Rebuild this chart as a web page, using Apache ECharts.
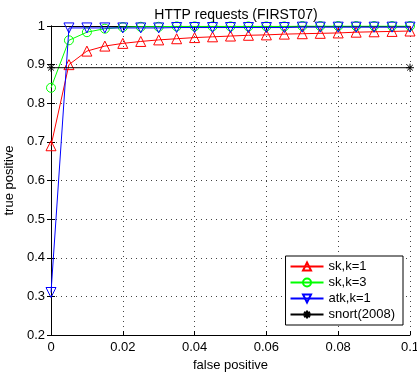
<!DOCTYPE html>
<html>
<head>
<meta charset="utf-8">
<script src="https://cdn.jsdelivr.net/npm/echarts@6/dist/echarts.min.js"></script>
<style>
  html, body { margin: 0; padding: 0; background: #fff; }
  #chart { width: 417px; height: 374px; }
</style>
</head>
<body>
<div id="chart"></div>
<script>
const fpr = [0, 0.005, 0.01, 0.015, 0.02, 0.025, 0.03, 0.035, 0.04, 0.045, 0.05,
  0.055, 0.06, 0.065, 0.07, 0.075, 0.08, 0.085, 0.09, 0.095, 0.1];
const skK1 = [0.69, 0.90, 0.935, 0.948, 0.955, 0.96, 0.964, 0.967, 0.97, 0.972, 0.974,
  0.976, 0.977, 0.979, 0.98, 0.981, 0.982, 0.984, 0.985, 0.986, 0.987];
const skK3 = [0.84, 0.963, 0.984, 0.993, 0.997, 0.998, 0.998, 0.999, 0.999, 0.999, 0.999,
  0.999, 0.999, 0.999, 1, 1, 1, 1, 1, 1, 1];
const atkK1 = [0.31, 0.995, 0.995, 0.995, 0.995, 0.995, 0.995, 0.996, 0.996, 0.996, 0.996,
  0.996, 0.996, 0.996, 0.997, 0.997, 0.997, 0.997, 0.997, 0.997, 0.997];
const snortX = [0, 0.1];
const snortY = [0.892, 0.892];

const xTicks = ["0", "0.02", "0.04", "0.06", "0.08", "0.1"];

const pairs = (xs, ys) => xs.map((x, i) => [x, ys[i]]);

const chart = echarts.init(document.getElementById("chart"));
const font = "Liberation Sans";

const hollow = (color) => ({
  color: "transparent",
  borderColor: color,
  borderWidth: 1
});

const option = {
  animation: false,
  textStyle: { fontFamily: font },
  title: {
    text: "HTTP requests (FIRST07)",
    left: 231,
    textAlign: "center",
    top: 3,
    textStyle: { fontSize: 14, fontWeight: "normal", color: "#000", fontFamily: font }
  },
  grid: { left: 51, right: 7, top: 26, bottom: 39, outerBoundsMode: "none" },
  legend: {
    orient: "vertical",
    right: 14,
    bottom: 49,
    backgroundColor: "#fff",
    borderColor: "#000",
    borderWidth: 1,
    borderRadius: 0,
    padding: [4, 8, 4, 4],
    itemGap: 3,
    itemWidth: 33,
    itemHeight: 10,
    textStyle: { fontSize: 13, color: "#000", fontFamily: font },
    data: ["sk,k=1", "sk,k=3", "atk,k=1", "snort(2008)"]
  },
  xAxis: [
    {
      type: "value",
      min: 0,
      max: 0.1,
      interval: 0.02,
      name: "false positive",
      nameLocation: "middle",
      nameGap: 24,
      nameTextStyle: { fontSize: 13, color: "#000" },
      axisLine: { lineStyle: { color: "#000", width: 1 } },
      axisTick: { inside: true, length: 4, lineStyle: { color: "#000" } },
      axisLabel: {
        fontSize: 13,
        color: "#000",
        margin: 6,
        formatter: (v) => xTicks[Math.round(v / 0.02)]
      },
      splitLine: { show: true, lineStyle: { color: "#444", type: [1, 4] } }
    },
    {
      type: "value",
      min: 0,
      max: 0.1,
      interval: 0.02,
      position: "top",
      axisLine: { lineStyle: { color: "#000" } },
      axisTick: { inside: true, length: 4, lineStyle: { color: "#000" } },
      axisLabel: { show: false },
      splitLine: { show: false }
    }
  ],
  yAxis: [
    {
      type: "value",
      min: 0.2,
      max: 1,
      interval: 0.1,
      name: "true positive",
      nameLocation: "middle",
      nameGap: 31,
      nameTextStyle: { fontSize: 13, color: "#000" },
      axisLine: { show: true, lineStyle: { color: "#000" } },
      axisTick: { show: true, inside: true, length: 4, lineStyle: { color: "#000" } },
      axisLabel: {
        fontSize: 13,
        color: "#000",
        margin: 6,
        formatter: (v) => String(+v.toFixed(1))
      },
      splitLine: { show: true, lineStyle: { color: "#444", type: [1, 4] } }
    },
    {
      type: "value",
      min: 0.2,
      max: 1,
      interval: 0.1,
      position: "right",
      axisLine: { show: true, lineStyle: { color: "#000" } },
      axisTick: { show: true, inside: true, length: 4, lineStyle: { color: "#000" } },
      axisLabel: { show: false },
      splitLine: { show: false }
    }
  ],
  series: [
    {
      name: "sk,k=1",
      type: "line",
      data: pairs(fpr, skK1),
      symbol: "triangle",
      symbolSize: 10,
      lineStyle: { color: "#ff0000", width: 1 },
      itemStyle: hollow("#ff0000"),
      z: 3
    },
    {
      name: "sk,k=3",
      type: "line",
      data: pairs(fpr, skK3),
      symbol: "circle",
      symbolSize: 9,
      lineStyle: { color: "#00ff00", width: 1 },
      itemStyle: hollow("#00ff00"),
      z: 4
    },
    {
      name: "atk,k=1",
      type: "line",
      data: pairs(fpr, atkK1),
      symbol: "triangle",
      symbolRotate: 180,
      symbolSize: 10,
      lineStyle: { color: "#0000ff", width: 1 },
      itemStyle: hollow("#0000ff"),
      z: 5
    },
    {
      name: "snort(2008)",
      type: "line",
      data: pairs(snortX, snortY),
      symbol: "path://M0,5L10,5M5,0L5,10M1.5,1.5L8.5,8.5M8.5,1.5L1.5,8.5",
      symbolSize: 8,
      lineStyle: { color: "#000", width: 1 },
      itemStyle: hollow("#000"),
      z: 6
    }
  ]
};

chart.setOption(option);
</script>
</body>
</html>
